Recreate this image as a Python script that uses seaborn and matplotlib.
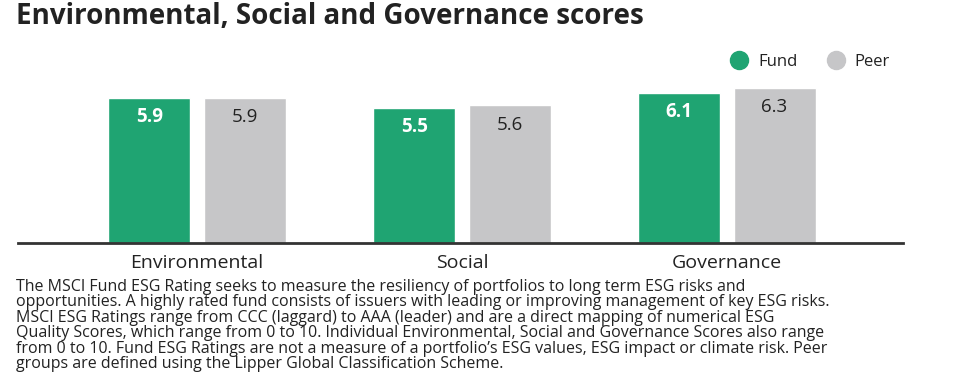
import pandas as pd
import matplotlib.pyplot as plt
import seaborn as sns

categories = ['Environmental', 'Social', 'Governance']
fund_scores = [5.9, 5.5, 6.1]
peer_scores = [5.9, 5.6, 6.3]
series_names = ['Fund', 'Peer']

title = 'Environmental, Social and Governance scores'
footnote = ("The MSCI Fund ESG Rating seeks to measure the resiliency of portfolios to long term ESG risks and\n"
            "opportunities. A highly rated fund consists of issuers with leading or improving management of key ESG risks.\n"
            "MSCI ESG Ratings range from CCC (laggard) to AAA (leader) and are a direct mapping of numerical ESG\n"
            "Quality Scores, which range from 0 to 10. Individual Environmental, Social and Governance Scores also range\n"
            "from 0 to 10. Fund ESG Ratings are not a measure of a portfolio\u2019s ESG values, ESG impact or climate risk. Peer\n"
            "groups are defined using the Lipper Global Classification Scheme.")

GREEN = '#1fa472'
GREY = '#c6c6c8'
DARK = '#222222'

sns.set_style('white')
plt.rcParams['font.family'] = ['Open Sans', 'DejaVu Sans']

df = pd.DataFrame({
    'category': categories * 2,
    'series': [series_names[0]] * 3 + [series_names[1]] * 3,
    'score': fund_scores + peer_scores,
})

fig = plt.figure(figsize=(9.68, 3.9), dpi=100)
ax = fig.add_axes([0.0186, 0.377, 0.9143, 0.4415])

sns.barplot(data=df, x='category', y='score', hue='series', order=categories,
            hue_order=series_names, palette=[GREEN, GREY], width=0.72, gap=0.14,
            saturation=1, legend=False, ax=ax)

# value labels inside the top of each bar
for cont, col, wt in zip(ax.containers, ['white', DARK], ['bold', 'normal']):
    for bar in cont:
        h = bar.get_height()
        ax.annotate(f'{h:.1f}', (bar.get_x() + bar.get_width() / 2, h),
                    xytext=(0, -14), textcoords='offset points',
                    ha='center', va='center', fontsize=13.5, color=col, fontweight=wt)

ax.set_xlim(-0.675, 2.665)
ax.set_ylim(0, 7)
ax.set_xlabel('')
ax.set_ylabel('')
ax.set_yticks([])
ax.tick_params(axis='x', length=0, pad=8, labelsize=14, labelcolor=DARK)
for s in ['top', 'right', 'left']:
    ax.spines[s].set_visible(False)
ax.spines['bottom'].set_color('#333333')
ax.spines['bottom'].set_linewidth(2)

# legend
handles = [plt.Line2D([], [], marker='o', linestyle='', markersize=13,
                      markerfacecolor=c, markeredgecolor=c) for c in [GREEN, GREY]]
fig.legend(handles, series_names, loc='center right', bbox_to_anchor=(0.935, 1 - 62 / 390),
           ncol=2, frameon=False, fontsize=12, handletextpad=0.15, columnspacing=1.3,
           labelcolor=DARK)

fig.text(16 / 968, 1 - 17 / 390, title, fontsize=20, fontweight='bold', color=DARK,
         ha='left', va='center')
fig.text(16 / 968, 1 - 279 / 390, footnote, fontsize=11.5, color=DARK, ha='left', va='top',
         linespacing=0.95)

fig.savefig('out.png', dpi=100)
